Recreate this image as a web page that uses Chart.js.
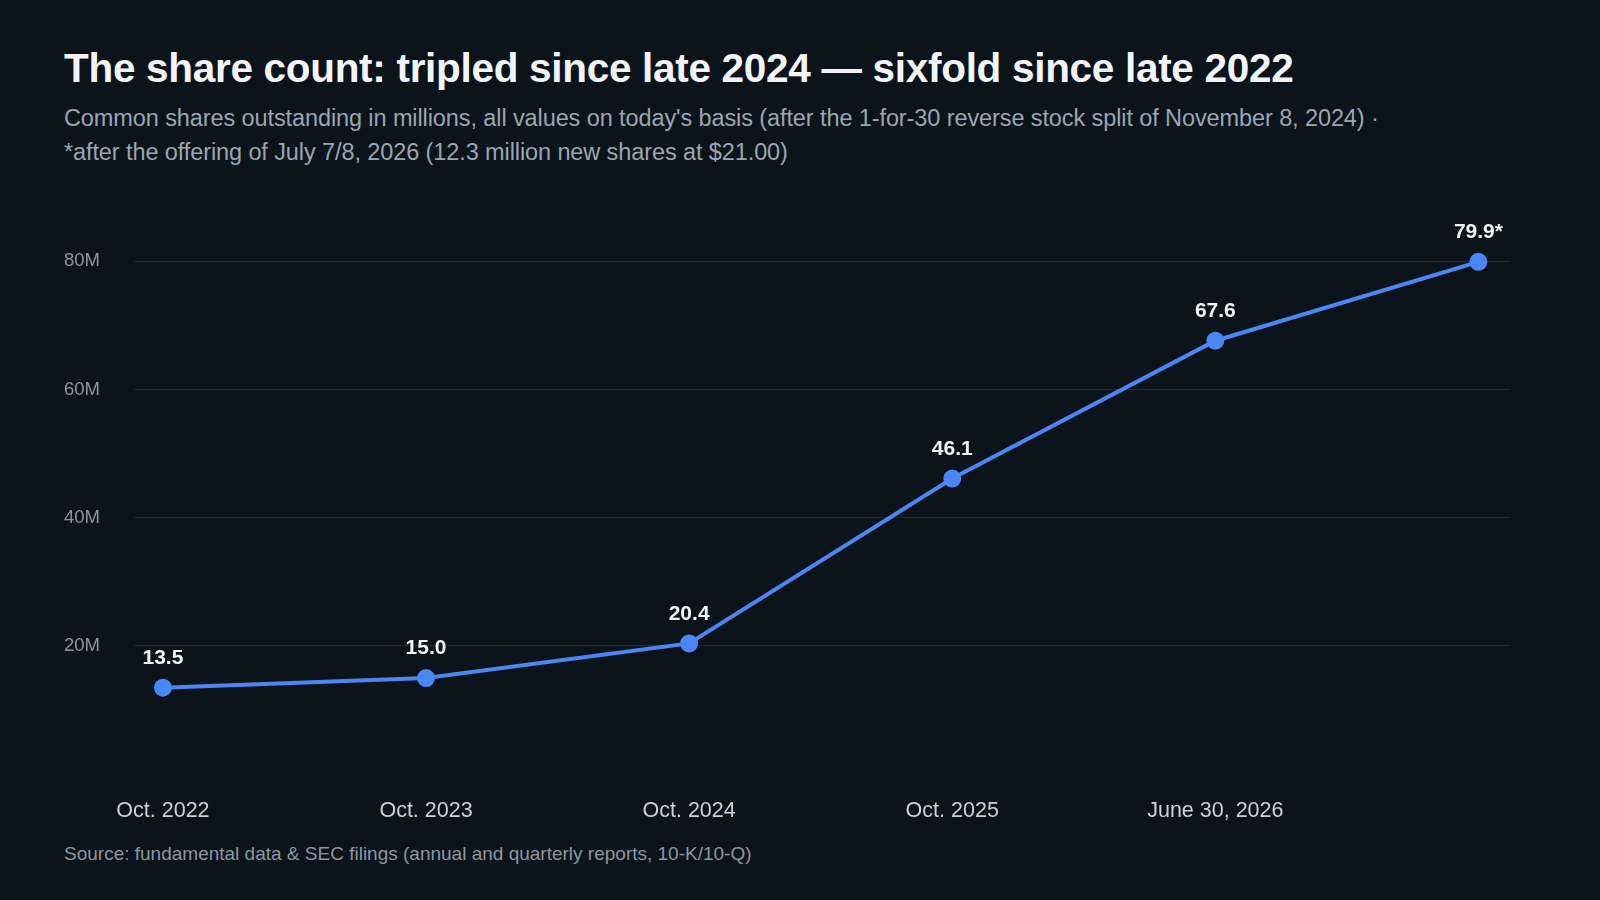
<!DOCTYPE html>
<html><head><meta charset="utf-8">
<script src="https://cdn.jsdelivr.net/npm/chart.js@4"></script>
<style>
body{margin:0;background:#0b131b;width:1600px;height:900px;overflow:hidden;font-family:"Liberation Sans",Arial,sans-serif;}
#t{position:absolute;left:64px;top:45px;color:#f2f4f7;font-size:40.5px;font-weight:bold;letter-spacing:-0.3px}
#s{position:absolute;left:64px;top:101px;color:#9aa6b2;font-size:23.5px;line-height:34px;letter-spacing:-0.1px}
#src{position:absolute;left:64px;top:843px;color:#8b97a3;font-size:19px}
#w{position:absolute;left:30px;top:152px;width:1491px;height:688px}
</style></head><body>
<div id="t">The share count: tripled since late 2024 — sixfold since late 2022</div>
<div id="s">Common shares outstanding in millions, all values on today's basis (after the 1-for-30 reverse stock split of November 8, 2024) ·<br>*after the offering of July 7/8, 2026 (12.3 million new shares at $21.00)</div>
<div id="w"><canvas id="c"></canvas></div>
<div id="src">Source: fundamental data &amp; SEC filings (annual and quarterly reports, 10-K/10-Q)</div>
<script>
const categories=['Oct. 2022','Oct. 2023','Oct. 2024','Oct. 2025','June 30, 2026',''];
const values=[13.5,15.0,20.4,46.1,67.6,79.9];
const pointLabels=['13.5','15.0','20.4','46.1','67.6','79.9*'];
const yTicks=[20,40,60,80];
const labelPlugin={id:'lbl',afterDatasetsDraw(ch){const ctx=ch.ctx;const m=ch.getDatasetMeta(0);ctx.save();ctx.font='bold 21px "Liberation Sans",Arial';ctx.fillStyle='#f2f4f7';ctx.textAlign='center';ctx.textBaseline='bottom';
m.data.forEach((p,i)=>ctx.fillText(pointLabels[i],p.x,p.y-19));ctx.restore();}};
new Chart(document.getElementById('c'),{type:'line',
data:{datasets:[{data:values.map((v,i)=>({x:i,y:v})),borderColor:'#4b86f5',backgroundColor:'#4b86f5',borderWidth:4,pointRadius:7,pointHoverRadius:7,tension:0}]},
options:{responsive:true,maintainAspectRatio:false,animation:false,
layout:{padding:{left:0,right:0,top:10}},
plugins:{legend:{display:false},tooltip:{enabled:false}},
scales:{
x:{type:'linear',min:-0.11,max:5.12,grid:{display:false},border:{display:false},
 afterBuildTicks(a){a.ticks=categories.map((c,i)=>({value:i}));},
 ticks:{color:'#c9d1d9',font:{size:21.5},padding:16,autoSkip:false,maxRotation:0,callback:(v)=>categories[v]}},
y:{min:0,max:90,grid:{color:(c)=>yTicks.includes(c.tick.value)?'#1f2a35':'transparent',drawTicks:false},border:{display:false},
 afterBuildTicks(a){a.ticks=yTicks.map(v=>({value:v}));},
 ticks:{color:'#8b97a3',font:{size:18.5},padding:34,callback:v=>v+'M'}}
}},plugins:[labelPlugin]});
</script></body></html>
